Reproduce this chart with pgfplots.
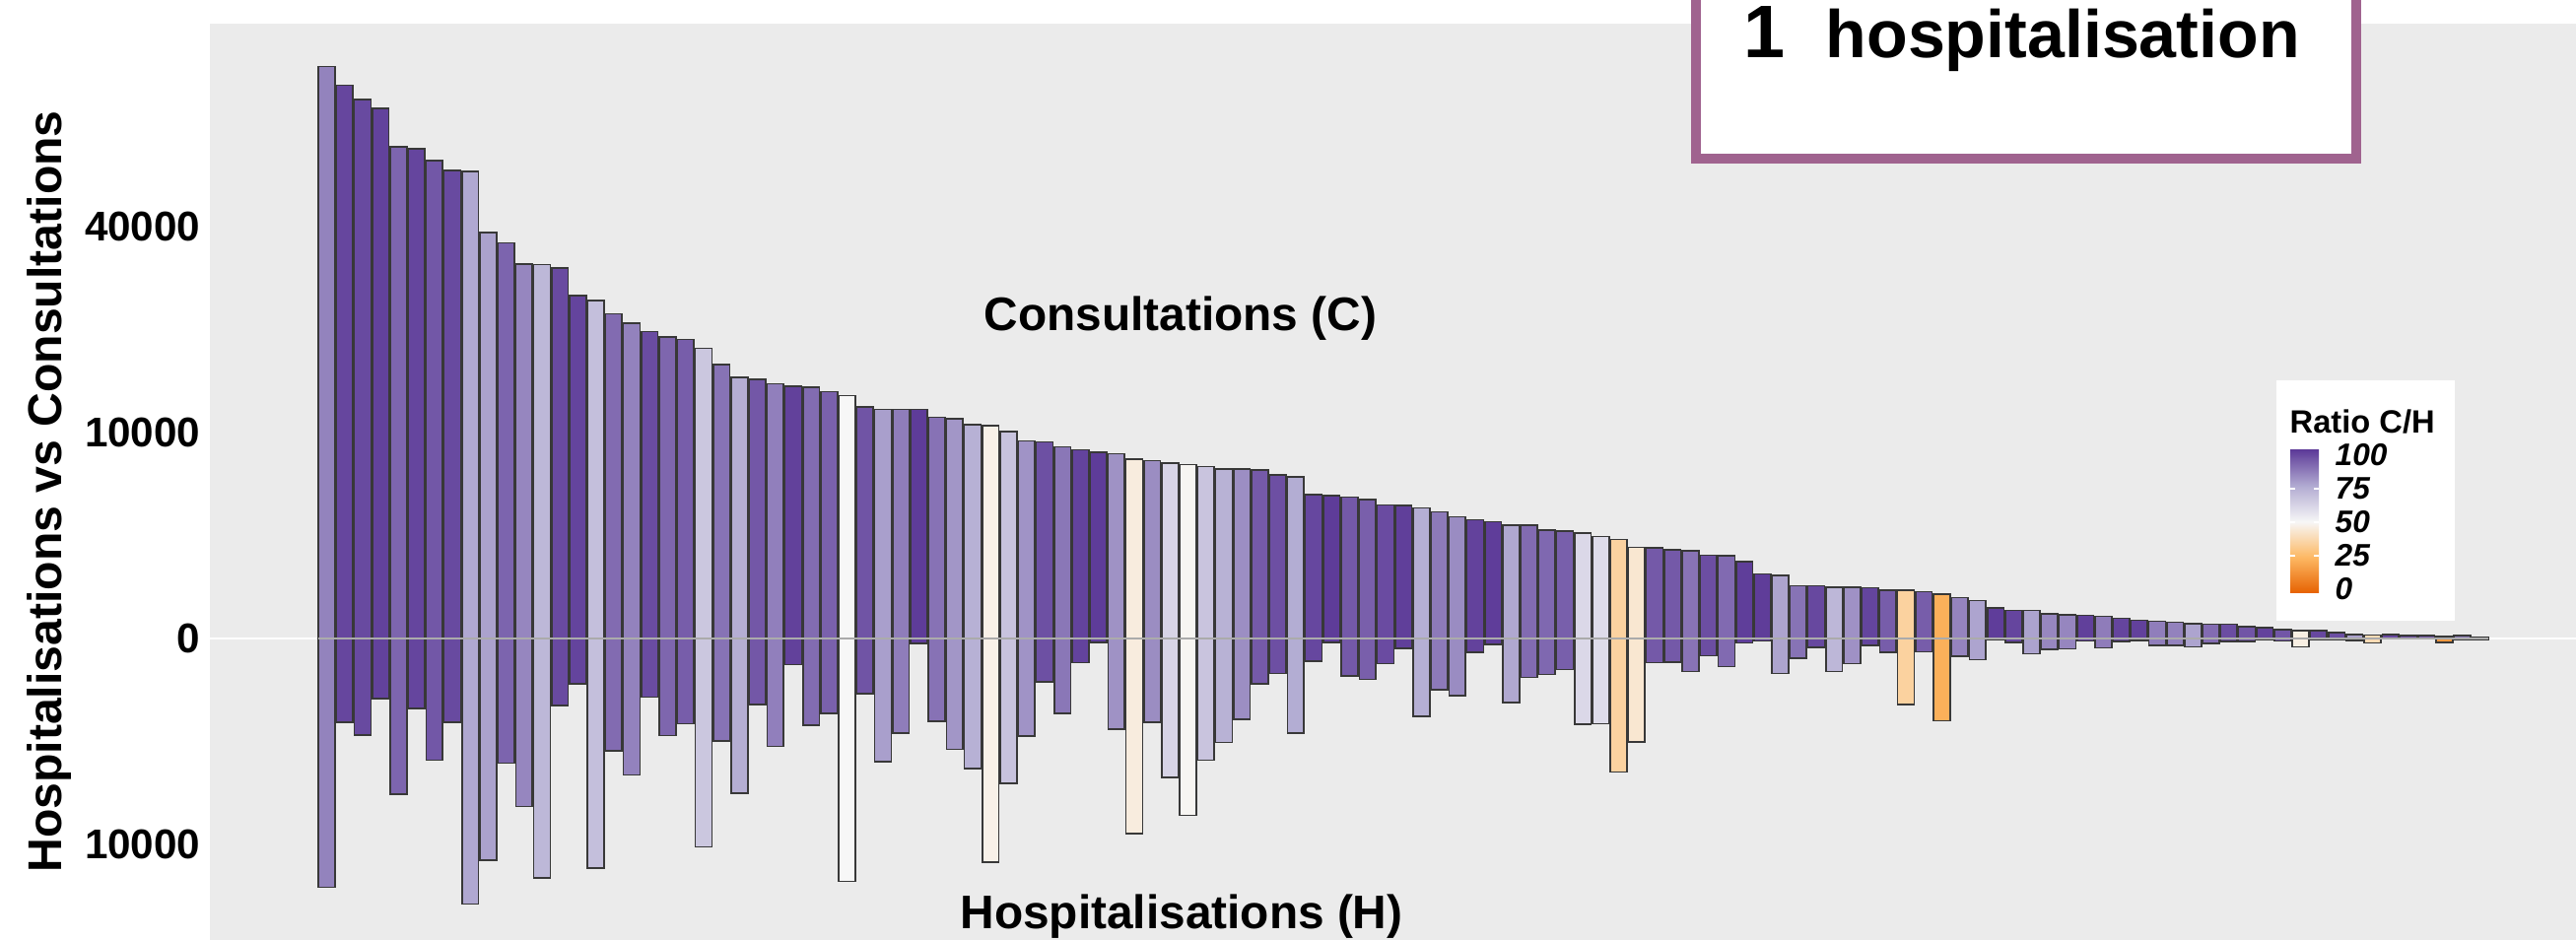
\documentclass[border=0pt]{standalone}
\usepackage{fontspec}
\setmainfont{Liberation Sans}
\usepackage{pgfplots}
\usepackage{pgfplotstable}
\pgfplotsset{compat=1.18}

\definecolor{p0}{HTML}{E66101}
\definecolor{p25}{HTML}{FDB863}
\definecolor{p50}{HTML}{F7F7F7}
\definecolor{p75}{HTML}{B2ABD2}
\definecolor{p100}{HTML}{5E3C99}
\definecolor{panel}{HTML}{EBEBEB}
\definecolor{boxcol}{HTML}{A0638F}

% colourbar shading: the path is mapped onto 25bp..75bp
\pgfdeclareverticalshading{puor}{100bp}{color(0bp)=(p0); color(25bp)=(p0);
  color(37.5bp)=(p25); color(50bp)=(p50); color(62.5bp)=(p75);
  color(75bp)=(p100); color(100bp)=(p100)}

% ratio C/(C+H) in percent -> bar fill
\newcommand\ratiocolor[1]{%
  \ifdim #1pt<25pt \edef\cspec{p25!\fpeval{round(4*(#1),1)}!p0}%
  \else\ifdim #1pt<50pt \edef\cspec{p50!\fpeval{round(4*(#1-25),1)}!p25}%
  \else\ifdim #1pt<75pt \edef\cspec{p75!\fpeval{round(4*(#1-50),1)}!p50}%
  \else \edef\cspec{p100!\fpeval{round(4*(#1-75),1)}!p75}%
  \fi\fi\fi}

% consultations (C) and hospitalisations (H), one row per bar
\pgfplotstableread{
n C H
1 77200 14600
2 72150 1660
3 68450 2200
4 66340 850
5 56950 5730
6 56540 1160
7 53800 3490
8 51660 1660
9 51400 16620
10 38820 11600
11 36900 3660
12 33090 6640
13 32980 13550
14 32350 1060
15 27710 490
16 26940 12420
17 24880 2960
18 23430 4400
19 22200 810
20 21430 2220
21 21090 1710
22 19840 10260
23 17690 2480
24 16100 5640
25 15810 1030
26 15300 2740
27 15010 160
28 14870 1780
29 14380 1320
30 13890 13890
31 12620 720
32 12360 3560
33 12360 2120
34 12360 6
35 11530 1610
36 11410 2900
37 10800 3990
38 10670 11780
39 10080 4960
40 9220 2250
41 9110 440
42 8670 1320
43 8400 135
44 8190 4
45 8035 1930
46 7570 8950
47 7470 1660
48 7270 4560
49 7120 7370
50 6980 3490
51 6780 2540
52 6780 1540
53 6690 480
54 6310 285
55 6175 2115
56 4880 122
57 4800 4
58 4720 326
59 4560 392
60 4210 149
61 4175 24
62 4025 1430
63 3770 612
64 3490 764
65 3320 45
66 3220 9
67 3026 970
68 3026 358
69 2775 305
70 2714 229
71 2624 1732
72 2448 1708
73 2306 4212
74 1957 2535
75 1931 135
76 1855 129
77 1805 256
78 1637 71
79 1613 187
80 1388 5
81 988 1.4
82 934 285
83 656 92
84 656 19
85 626 256
86 626 149
87 612 12
88 556 45
89 556 1025
90 515 41
91 464 1590
92 392 76
93 338 104
94 220 0.5
95 188 4
96 185 56
97 143 29
98 129 26
99 125 1.2
100 118 20
101 95 2
102 80 1
103 69 12
104 64 12
105 52 16
106 49 6
107 49 2
108 33 2
109 28 0.4
110 19 1.2
111 14 16
112 14 0.4
113 9 0.4
114 3.7 1.1
115 3.1 4.9
116 3.7 0.1
117 1.7 0.05
118 1.7 0.1
119 0.7 3.7
120 1.7 0.3
121 0.4 0.2
}\bars

\begin{document}
\begin{tikzpicture}
\begin{axis}[
    at={(2.13cm,0cm)}, anchor=south west,
    scale only axis, width=24.01cm, height=9.30cm,
    xmin=-5.507, xmax=126.34,
    ymin=-146.4, ymax=298.6,
    ybar, bar width=0.92, bar shift=0pt,
    every axis plot/.append style={bar shift=0pt, draw=black!78, line width=0.45pt},
    axis background/.style={fill=panel},
    axis line style={draw=none},
    xtick=\empty,
    % square-root scale: ticks sit at sqrt(value)
    ytick={-100,0,100,200},
    yticklabels={10000,0,10000,40000},
    major tick length=0pt,
    yticklabel style={font=\fontsize{12}{13}\selectfont\bfseries, inner sep=0pt, xshift=-0.09cm},
]
\addplot[sharp plot, draw=white, line width=0.6pt, fill=none] coordinates {(-5.507,0) (126.34,0)};

\pgfplotsinvokeforeach{0,...,120}{%
  \pgfplotstablegetelem{#1}{C}\of\bars \let\cv\pgfplotsretval
  \pgfplotstablegetelem{#1}{H}\of\bars \let\hv\pgfplotsretval
  \edef\rat{\fpeval{round(100*\cv/(\cv+\hv),2)}}%
  \ratiocolor{\rat}%
  \edef\doplots{%
    \noexpand\addplot[fill={\cspec}] coordinates {(\the\numexpr#1+1\relax,\fpeval{sqrt(\cv)})};
    \noexpand\addplot[fill={\cspec}] coordinates {(\the\numexpr#1+1\relax,\fpeval{-sqrt(\hv)})};
  }\doplots
}

\addplot[sharp plot, draw=black!33, line width=0.55pt, fill=none] coordinates {(0.54,0) (121.46,0)};
\end{axis}

% annotations
\node[anchor=base, font=\fontsize{13.6}{16}\selectfont\bfseries] at (11.98,6.18) {Consultations (C)};
\node[anchor=base, font=\fontsize{13.6}{16}\selectfont\bfseries] at (11.99,0.11) {Hospitalisations (H)};
\node[anchor=base, rotate=90, inner sep=0pt, font=\fontsize{13.7}{16}\selectfont\bfseries] at (0.62,4.55) {Hospitalisations vs Consultations};

% header box, cut by the top edge
\draw[boxcol, line width=0.1cm, fill=white] (17.21,7.93) rectangle (23.91,11.0);
\node[anchor=base west, inner sep=0pt, font=\fontsize{21.5}{23}\selectfont\bfseries] at (17.69,8.95) {1};
\node[anchor=base west, inner sep=0pt, font=\fontsize{19.4}{22}\selectfont\bfseries] at (18.52,8.95) {hospitalisation};

% colour legend
\fill[white] (23.10,3.24) rectangle (24.91,5.68);
\node[anchor=base west, inner sep=0pt, font=\fontsize{9.3}{11}\selectfont\bfseries] at (23.23,5.14) {Ratio C/H};
\shade[shading=puor] (23.24,3.52) rectangle (23.53,4.97);
\foreach \k/\lab in {0/0,1/25,2/50,3/75,4/100} {
  \node[anchor=west, inner sep=0pt, font=\fontsize{9}{10}\selectfont\bfseries\itshape] at (23.69,3.56+0.34*\k) {\lab};
}
\foreach \k in {1,2,3} {
  \draw[white, line width=0.3pt] (23.24,3.56+0.34*\k) -- ++(0.05,0);
  \draw[white, line width=0.3pt] (23.53,3.56+0.34*\k) -- ++(-0.05,0);
}

\pgfresetboundingbox
\useasboundingbox (0,0) rectangle (26.14,9.54);
\end{tikzpicture}
\end{document}
